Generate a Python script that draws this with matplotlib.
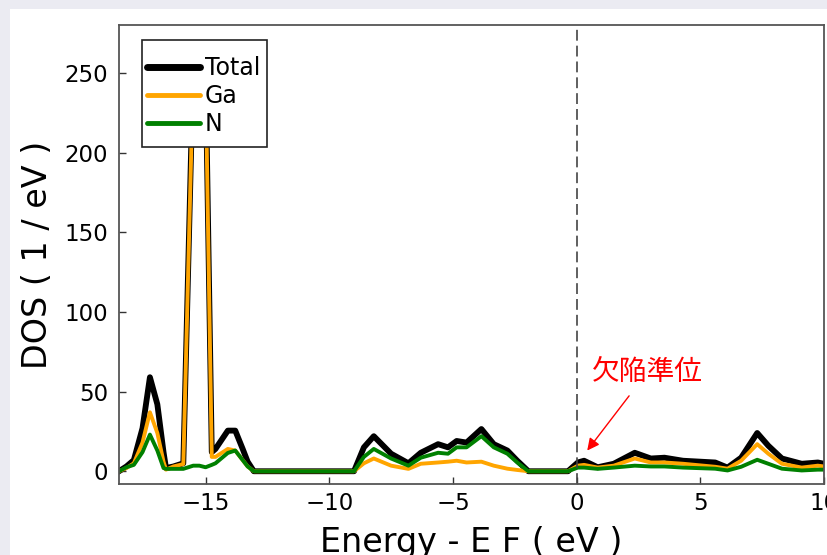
import numpy as np
import matplotlib
matplotlib.use("Agg")
import matplotlib.pyplot as plt
import matplotlib.patches as patches

plt.rcParams['font.family'] = ['DejaVu Sans', 'Noto Sans CJK JP']

# energy grid (eV, relative to E_F) and DOS values
energy = [-18.5, -18.2, -17.9, -17.55, -17.25, -16.95, -16.7, -16.6, -16.3, -15.9,
          -15.5, -15.25, -15.0, -14.75, -14.6, -14.1, -13.8, -13.5, -13.3, -13.05,
          -9.0, -8.6, -8.2, -7.5, -6.8, -6.3, -5.6, -5.2, -4.85, -4.45,
          -3.85, -3.35, -2.8, -2.4, -1.95, -0.35, 0.05, 0.3, 0.85, 1.5,
          2.35, 3.0, 3.55, 4.3, 5.6, 6.1, 6.65, 7.3, 7.75, 8.3,
          9.1, 9.75, 10.0]
dos_total = [0, 3, 7, 27, 59, 42, 12, 2, 3, 5,
             254, 266, 252, 12, 14, 25.5, 25.5, 14, 6, 0,
             0, 15, 22, 11, 5, 11.6, 17, 15, 19, 18,
             26.5, 17, 13, 6.6, 0, 0, 5.5, 6.6, 2.5, 4.7,
             11.6, 8, 8.5, 6.6, 5.5, 2.3, 8.5, 24, 16, 8,
             4.7, 5.5, 4.7]
dos_ga = [0, 2, 5, 18, 37, 24, 6, 1, 3, 4.5,
          250, 262, 248, 9, 9, 14, 13, 7, 3, 0,
          0, 5, 8, 3.5, 1.5, 4.7, 5.5, 6, 6.6, 5.5,
          6, 3.5, 1.6, 0.8, 0, 0, 3.5, 4, 2.3, 3.5,
          8, 5.5, 5.5, 4.7, 2.8, 1.6, 6.6, 17, 11, 4.7,
          2.3, 3.5, 3]
dos_n = [0, 2.5, 4, 12, 23, 13, 2, 1.5, 1.5, 1.5,
         3.5, 3.5, 2.5, 4, 5, 11.5, 13, 7, 3, 0,
         0, 9, 14, 8, 3.5, 8.5, 11.6, 11, 15, 15,
         22, 15, 11, 5.5, 0, 0, 2.3, 2.3, 1.5, 2.3,
         3.5, 3, 3, 2.3, 1.6, 0.5, 2.8, 7.2, 4.7, 1.6,
         0.5, 1, 1]

series_labels = ["Total", "Ga", "N"]
y_ticks = [0, 50, 100, 150, 200, 250]
x_ticks = [-15, -10, -5, 0, 5, 10]

fig = plt.figure(figsize=(8.27, 5.55), dpi=100)
fig.patch.set_facecolor('#ebebf2')
fig.patches.append(patches.Rectangle((10 / 827, 0), 1, 1 - 9 / 555, transform=fig.transFigure,
                                     facecolor='white', edgecolor='none', zorder=-10))

ax = fig.add_axes([119 / 827, 1 - 484 / 555, 705 / 827, 459 / 555])

ax.plot(energy, dos_total, color='black', lw=4.2, label=series_labels[0])
ax.plot(energy, dos_ga, color='orange', lw=2.8, label=series_labels[1])
ax.plot(energy, dos_n, color='green', lw=2.8, label=series_labels[2])

ax.axvline(0, color='#444444', lw=1.2, dashes=(6.5, 3))

# defect level annotation
ax.annotate('', xy=(0.36, 11.6), xytext=(2.19, 48.7),
            arrowprops=dict(arrowstyle='-|>', color='red', lw=1, mutation_scale=18))
ax.text(0.62, 62, "欠陥準位", color='red', fontsize=20, ha='left', va='center',
        family=['Noto Sans CJK JP', 'DejaVu Sans'])

ax.set_xlim(-18.5, 10)
ax.set_ylim(-8, 280)
ax.set_xticks(x_ticks)
ax.set_yticks(y_ticks)
ax.tick_params(direction='in', length=5, width=1, labelsize=16.5, color='#333333')
ax.tick_params(axis='x', pad=6)
ax.tick_params(axis='y', pad=8)
for sp in ax.spines.values():
    sp.set_color('#555555')
    sp.set_linewidth(1.3)

ax.set_xlabel("Energy - E F ( eV )", fontsize=24, labelpad=8)
ax.set_ylabel("DOS ( 1 / eV )", fontsize=24, labelpad=7)

# legend box is taller than its padding allows, so draw the frame by hand
ax.add_patch(patches.Rectangle((0.0326, 0.734), 0.1773, 0.233, transform=ax.transAxes,
                               facecolor='white', edgecolor='#222222', lw=1.2, zorder=4.9))
leg = ax.legend(loc='upper left', bbox_to_anchor=(0.0326, 0.942), fontsize=17,
                frameon=False, handlelength=2.25, handletextpad=0.2, borderpad=0.2,
                labelspacing=0.17, borderaxespad=0)
leg.set_zorder(5)
for h, w in zip(leg.get_lines(), [5, 3.5, 3.5]):
    h.set_linewidth(w)
    h.set_solid_capstyle('round')

fig.savefig("out.png", dpi=100, facecolor=fig.get_facecolor())
